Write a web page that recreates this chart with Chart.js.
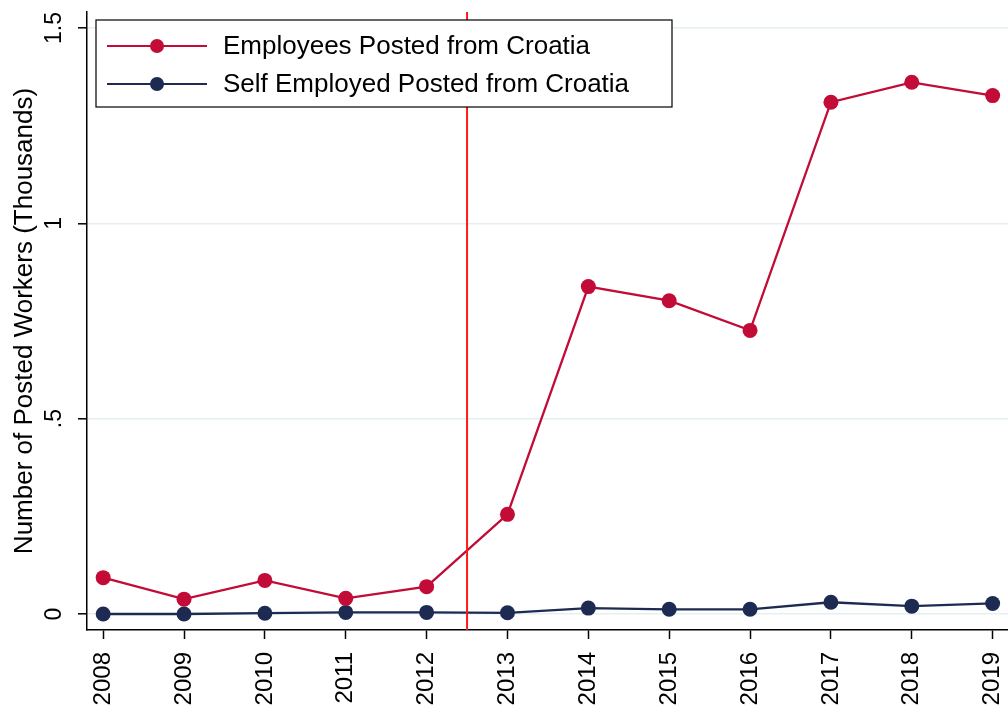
<!DOCTYPE html>
<html lang="en">
<head>
    <meta charset="UTF-8">
    <title>Posted Workers from Croatia</title>
    <script src="https://cdn.jsdelivr.net/npm/chart.js"></script>
    <style>
        html, body { margin: 0; padding: 0; background: #fff; }
        .chart-container { width: 1008px; height: 711px; }
    </style>
</head>
<body>
    <div class="chart-container">
        <canvas id="postedChart" width="1008" height="711"></canvas>
    </div>

    <script>
        const years = [2008, 2009, 2010, 2011, 2012, 2013, 2014, 2015, 2016, 2017, 2018, 2019];
        const employees = [0.093, 0.038, 0.086, 0.040, 0.070, 0.255, 0.838, 0.802, 0.726, 1.310, 1.361, 1.327];
        const selfEmployed = [0.000, 0.000, 0.002, 0.004, 0.004, 0.003, 0.015, 0.012, 0.012, 0.030, 0.020, 0.027];
        const yTicks = [0, 0.5, 1, 1.5];
        const yTickLabels = ['0', '.5', '1', '1.5'];
        const cutoffYear = 2012.5;

        const FONT = '"Liberation Sans", Arial, Helvetica, sans-serif';
        const CRIMSON = '#c20b36';
        const NAVY = '#1d2b52';

        // vertical cutoff line, y tick labels (rotated) and the legend box
        const extras = {
            id: 'extras',
            afterDatasetsDraw(chart) {
                const { ctx, chartArea, scales } = chart;
                const x = scales.x.getPixelForValue(cutoffYear);
                ctx.save();
                ctx.strokeStyle = '#ff1a1a';
                ctx.lineWidth = 2;
                ctx.beginPath();
                ctx.moveTo(x, chartArea.top);
                ctx.lineTo(x, chartArea.bottom);
                ctx.stroke();
                ctx.restore();
            },
            afterDraw(chart) {
                const { ctx, scales } = chart;
                // y tick labels
                ctx.save();
                ctx.fillStyle = '#000';
                ctx.font = '23px ' + FONT;
                ctx.textAlign = 'center';
                ctx.textBaseline = 'middle';
                yTicks.forEach((v, i) => {
                    const py = scales.y.getPixelForValue(v);
                    ctx.save();
                    ctx.translate(55, py);
                    ctx.rotate(-Math.PI / 2);
                    ctx.fillText(yTickLabels[i], 0, 0);
                    ctx.restore();
                });
                ctx.restore();

                // legend
                const box = { x: 96, y: 20, w: 576, h: 87 };
                ctx.save();
                ctx.fillStyle = '#fff';
                ctx.fillRect(box.x, box.y, box.w, box.h);
                ctx.strokeStyle = '#000';
                ctx.lineWidth = 1.2;
                ctx.strokeRect(box.x, box.y, box.w, box.h);
                chart.data.datasets.forEach((ds, i) => {
                    const cy = 46 + i * 38;
                    ctx.strokeStyle = ds.borderColor;
                    ctx.lineWidth = 2;
                    ctx.beginPath();
                    ctx.moveTo(107, cy);
                    ctx.lineTo(207, cy);
                    ctx.stroke();
                    ctx.fillStyle = ds.borderColor;
                    ctx.beginPath();
                    ctx.arc(157, cy, 7, 0, Math.PI * 2);
                    ctx.fill();
                    ctx.fillStyle = '#000';
                    ctx.font = '26px ' + FONT;
                    ctx.textAlign = 'left';
                    ctx.textBaseline = 'middle';
                    ctx.fillText(ds.label, 223, cy + 1);
                });
                ctx.restore();
            }
        };

        new Chart(document.getElementById('postedChart'), {
            type: 'line',
            data: {
                datasets: [
                    {
                        label: 'Employees Posted from Croatia',
                        data: years.map((yr, i) => ({ x: yr, y: employees[i] })),
                        borderColor: CRIMSON,
                        backgroundColor: CRIMSON,
                        borderWidth: 2.3,
                        pointRadius: 7.5,
                        pointBorderWidth: 0,
                        tension: 0
                    },
                    {
                        label: 'Self Employed Posted from Croatia',
                        data: years.map((yr, i) => ({ x: yr, y: selfEmployed[i] })),
                        borderColor: NAVY,
                        backgroundColor: NAVY,
                        borderWidth: 2.3,
                        pointRadius: 7.5,
                        pointBorderWidth: 0,
                        tension: 0
                    }
                ]
            },
            options: {
                responsive: false,
                animation: false,
                layout: { autoPadding: false, padding: { top: 12, right: 0, left: 0, bottom: 0 } },
                plugins: {
                    legend: { display: false },
                    tooltip: { enabled: false }
                },
                scales: {
                    x: {
                        type: 'linear',
                        min: 2007.8,
                        max: 2019.19,
                        afterBuildTicks: (s) => { s.ticks = years.map(v => ({ value: v })); },
                        afterFit: (s) => { s.height = 81; s.paddingLeft = 0; s.paddingRight = 0; },
                        grid: { drawOnChartArea: false, drawTicks: true, tickLength: 9, tickColor: '#000', tickWidth: 1.5 },
                        border: { color: '#000', width: 1.5 },
                        ticks: {
                            minRotation: 90,
                            maxRotation: 90,
                            padding: 13,
                            color: '#000',
                            font: { family: FONT, size: 24 },
                            callback: (v) => String(v)
                        }
                    },
                    y: {
                        min: -0.041,
                        max: 1.541,
                        afterBuildTicks: (s) => { s.ticks = yTicks.map(v => ({ value: v })); },
                        afterFit: (s) => { s.width = 87; },
                        grid: { color: '#e6eff0', lineWidth: 1.6, tickColor: '#000', tickLength: 9, tickWidth: 1.5 },
                        border: { color: '#000', width: 1.5 },
                        ticks: { display: false },
                        title: {
                            display: true,
                            text: 'Number of Posted Workers (Thousands)',
                            color: '#000',
                            font: { family: FONT, size: 26 },
                            padding: { top: 9, bottom: 0 }
                        }
                    }
                }
            },
            plugins: [extras]
        });
    </script>
</body>
</html>
